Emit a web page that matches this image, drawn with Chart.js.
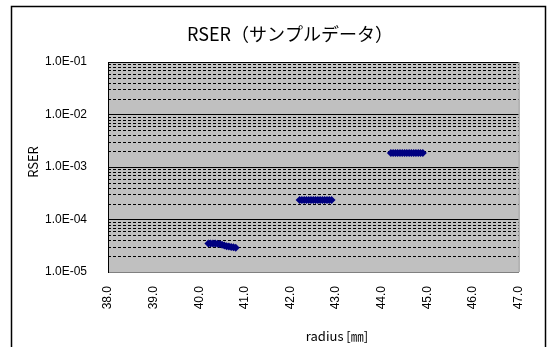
<!DOCTYPE html>
<html>
<head>
<meta charset="utf-8">
<script src="https://cdn.jsdelivr.net/npm/chart.js@4/dist/chart.umd.min.js"></script>
<style>
  html, body { margin: 0; padding: 0; background: #fff; }
  #wrap { width: 547px; height: 347px; }
</style>
</head>
<body>
<div id="wrap"><canvas id="rserChart" width="547" height="347"></canvas></div>
<script>
// radius [mm] and RSER values
const radiusA = [40.20, 40.25, 40.30, 40.35, 40.40, 40.45, 40.50, 40.55, 40.60, 40.65, 40.70, 40.75, 40.80];
const rserA   = [3.5e-5, 3.5e-5, 3.5e-5, 3.5e-5, 3.45e-5, 3.4e-5, 3.3e-5, 3.2e-5, 3.1e-5, 3.05e-5, 3.0e-5, 2.95e-5, 2.9e-5];
const radiusB = [42.20, 42.25, 42.30, 42.35, 42.40, 42.45, 42.50, 42.55, 42.60, 42.65, 42.70, 42.75, 42.80, 42.85, 42.90];
const rserB   = [2.35e-4, 2.35e-4, 2.35e-4, 2.35e-4, 2.35e-4, 2.35e-4, 2.35e-4, 2.35e-4, 2.35e-4, 2.35e-4, 2.35e-4, 2.35e-4, 2.35e-4, 2.35e-4, 2.35e-4];
const radiusC = [44.20, 44.25, 44.30, 44.35, 44.40, 44.45, 44.50, 44.55, 44.60, 44.65, 44.70, 44.75, 44.80, 44.85, 44.90];
const rserC   = [1.85e-3, 1.85e-3, 1.85e-3, 1.85e-3, 1.85e-3, 1.85e-3, 1.85e-3, 1.85e-3, 1.85e-3, 1.85e-3, 1.85e-3, 1.85e-3, 1.85e-3, 1.85e-3, 1.85e-3];

// axis ticks
const yMajorTicks = [1e-5, 1e-4, 1e-3, 1e-2, 1e-1];
const yMinorTicks = [];
yMajorTicks.slice(0, -1).forEach(d => {
    for (const m of [2, 3, 4, 5, 6, 7, 8, 9]) yMinorTicks.push(m * d);
});
const xMin = 38, xMax = 47;

const chartTitle = 'RSER（サンプルデータ）';
const xTitle = 'radius [㎜]';
const yTitle = 'RSER';

const toPoints = (xs, ys) => xs.map((x, i) => ({ x: x, y: ys[i] }));

// frame, plot background, minor dashed grid, titles
const decorPlugin = {
    id: 'decor',
    beforeDraw(chart) {
        const c = chart.ctx, a = chart.chartArea;
        c.save();
        c.fillStyle = '#fff';
        c.fillRect(0, 0, chart.width, chart.height);
        c.strokeStyle = '#000';
        c.lineWidth = 1.5;
        c.strokeRect(11.5, 6.5, 534, 400);
        c.fillStyle = '#C0C0C0';
        c.fillRect(a.left, a.top, a.right - a.left, a.bottom - a.top);
        c.restore();
    },
    beforeDatasetsDraw(chart) {
        const c = chart.ctx, a = chart.chartArea, y = chart.scales.y;
        c.save();
        c.strokeStyle = '#000';
        c.lineWidth = 1;
        c.setLineDash([3, 2]);
        yMinorTicks.forEach(v => {
            const py = Math.round(y.getPixelForValue(v)) + 0.5;
            c.beginPath();
            c.moveTo(a.left, py);
            c.lineTo(a.right, py);
            c.stroke();
        });
        c.setLineDash([]);
        c.strokeStyle = '#808080';
        c.beginPath();
        c.moveTo(a.right + 0.5, a.top);
        c.lineTo(a.right + 0.5, a.bottom);
        c.stroke();
        c.restore();
    },
    afterDraw(chart) {
        const c = chart.ctx;
        c.save();
        c.fillStyle = '#000';
        c.textAlign = 'center';
        c.textBaseline = 'middle';
        c.font = '18px "Noto Sans CJK JP", sans-serif';
        c.fillText(chartTitle, 290, 34);
        c.font = '13px "Noto Sans CJK JP", sans-serif';
        c.fillText(xTitle, 337, 336);
        c.translate(33, 162);
        c.rotate(-Math.PI / 2);
        c.fillText(yTitle, 0, 0);
        c.restore();
    }
};

const ds = (xs, ys) => ({
    data: toPoints(xs, ys),
    showLine: false,
    pointStyle: 'rectRot',
    pointRadius: 4,
    pointBackgroundColor: '#000080',
    pointBorderColor: '#000080',
    pointBorderWidth: 0
});

new Chart(document.getElementById('rserChart'), {
    type: 'scatter',
    data: { datasets: [ds(radiusA, rserA), ds(radiusB, rserB), ds(radiusC, rserC)] },
    options: {
        responsive: false,
        animation: false,
        layout: { padding: { left: 0, top: 62, right: 25, bottom: 0 } },
        plugins: { legend: { display: false }, tooltip: { enabled: false } },
        scales: {
            x: {
                type: 'linear',
                min: xMin,
                max: xMax,
                afterFit: s => { s.height = 75; },
                ticks: {
                    stepSize: 1,
                    minRotation: 90,
                    maxRotation: 90,
                    padding: 14,
                    color: '#000',
                    font: { family: '"Liberation Sans", Arial, sans-serif', size: 12 },
                    callback: v => Number(v).toFixed(1)
                },
                grid: { display: false, drawTicks: false },
                border: { display: true, color: '#808080', width: 1 }
            },
            y: {
                type: 'logarithmic',
                min: yMajorTicks[0],
                max: yMajorTicks[yMajorTicks.length - 1],
                afterFit: s => { s.width = 108; },
                afterBuildTicks: s => { s.ticks = yMajorTicks.map(v => ({ value: v })); },
                ticks: {
                    padding: 21,
                    color: '#000',
                    font: { family: '"Liberation Sans", Arial, sans-serif', size: 12 },
                    callback: v => Number(v).toExponential(1).toUpperCase().replace(/E([+-])(\d)$/, 'E$10$2')
                },
                grid: { color: '#000', lineWidth: 1, drawTicks: false },
                border: { display: true, color: '#000', width: 1 }
            }
        }
    },
    plugins: [decorPlugin]
});
</script>
</body>
</html>
